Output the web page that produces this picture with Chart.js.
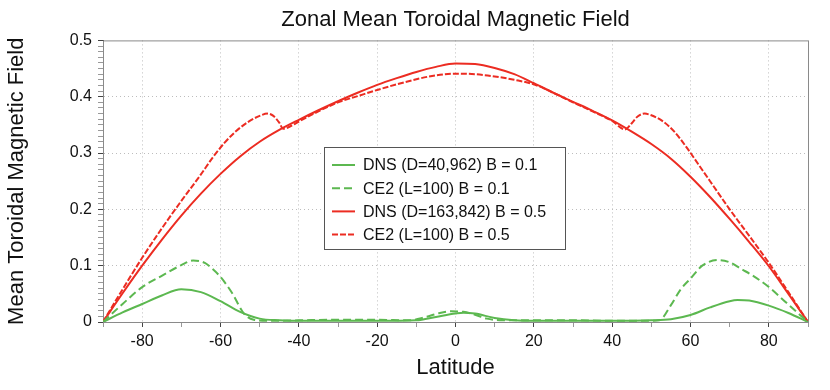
<!DOCTYPE html>
<html>
<head>
<meta charset="utf-8">
<script src="https://cdn.jsdelivr.net/npm/chart.js@4.4.1/dist/chart.umd.min.js"></script>
<style>
  html, body { margin: 0; padding: 0; background: #fff; }
</style>
</head>
<body>
<canvas id="graph" width="830" height="390"></canvas>
<script>
// DNS (D=40,962) B = 0.1
const latDnsLow = [-90,-85,-80,-75,-70,-65,-60,-55,-50,-45,-40,-30,-20,-10,-5,0,2,5,10,15,20,30,40,50,55,60,65,70,72,75,80,85,90];
const valDnsLow = [0,0.017,0.032,0.047,0.058,0.053,0.037,0.018,0.006,0.003,0.002,0.002,0.002,0.003,0.009,0.015,0.0165,0.015,0.007,0.003,0.002,0.002,0.002,0.003,0.005,0.0125,0.026,0.037,0.039,0.038,0.029,0.016,0];

// CE2 (L=100) B = 0.1
const latCe2Low = [-90,-85,-80,-75,-70,-67,-64,-62,-60,-57,-54,-51.5,-48,-40,-30,-20,-12,-8,-4,-1,2,5,8,12,20,30,40,48,52,55,57.5,60,63,67,70,73,76,80,84.5,90];
const valCe2Low = [0,0.032,0.062,0.082,0.101,0.109,0.105,0.094,0.08,0.051,0.015,0.004,0.002,0.003,0.004,0.004,0.003,0.008,0.016,0.019,0.018,0.013,0.006,0.003,0.003,0.003,0.002,0.002,0.003,0.03,0.058,0.077,0.1,0.11,0.106,0.094,0.082,0.062,0.034,0];

// DNS (D=163,842) B = 0.5
const latDnsHigh = [-90,-85,-80,-75,-70,-65,-60,-55,-50,-45,-40,-35,-30,-25,-20,-15,-10,-5,0,5,10,15,20,25,30,35,40,45,50,55,60,65,70,75,80,85,90];
const valDnsHigh = [0,0.051,0.1,0.146,0.189,0.228,0.263,0.294,0.32,0.341,0.359,0.376,0.392,0.407,0.421,0.433,0.444,0.453,0.459,0.458,0.451,0.44,0.424,0.407,0.391,0.375,0.358,0.338,0.316,0.29,0.258,0.222,0.183,0.142,0.099,0.05,0];

// CE2 (L=100) B = 0.5
const latCe2High = [-90,-85,-80,-75,-70,-65,-62,-59,-56,-53,-50,-48,-46.5,-45,-44,-42,-40,-35,-30,-25,-20,-15,-10,-5,0,5,10,15,20,25,30,35,40,43.3,45,46.5,48.3,50,53,56,59,62,65,70,75,80,85,90];
const valCe2High = [0,0.058,0.114,0.166,0.215,0.262,0.292,0.318,0.339,0.355,0.366,0.37,0.366,0.354,0.343,0.348,0.356,0.374,0.39,0.401,0.412,0.422,0.431,0.438,0.441,0.44,0.436,0.43,0.422,0.407,0.39,0.374,0.357,0.342,0.353,0.365,0.37,0.367,0.356,0.337,0.31,0.28,0.25,0.2,0.153,0.105,0.053,0];

const seriesLabels = ['DNS (D=40,962) B = 0.1', 'CE2 (L=100) B = 0.1', 'DNS (D=163,842) B = 0.5', 'CE2 (L=100) B = 0.5'];

const green = 'rgb(92,184,80)';
const red = 'rgb(236,44,34)';

function pts(xs, ys) {
    return xs.map((x, i) => ({x: x, y: ys[i]}));
}

Chart.defaults.font.family = '"Liberation Sans", Arial, Helvetica, sans-serif';
Chart.defaults.color = '#111';

// gray frame round the plot area
const frame = {
    id: 'frame',
    beforeDatasetsDraw(chart) {
        const a = chart.chartArea, c = chart.ctx;
        c.save();
        c.strokeStyle = '#8a8a8a';
        c.lineWidth = 1;
        c.strokeRect(a.left + 0.5, a.top + 0.5, a.right - a.left, a.bottom - a.top);
        c.restore();
    }
};

// boxed legend inside the plot
const boxLegend = {
    id: 'boxLegend',
    afterDraw(chart) {
        const c = chart.ctx;
        const x = 324, y = 147, w = 241, h = 102;
        c.save();
        c.fillStyle = '#fff';
        c.fillRect(x, y, w, h);
        c.strokeStyle = '#555';
        c.lineWidth = 1;
        c.strokeRect(x + 0.5, y + 0.5, w, h);
        c.font = '16px "Liberation Sans", Arial, sans-serif';
        c.textBaseline = 'middle';
        chart.data.datasets.forEach((ds, i) => {
            const ry = 165 + i * 23.2;
            c.strokeStyle = ds.borderColor;
            c.lineWidth = 2;
            c.setLineDash(ds.borderDash || []);
            c.beginPath();
            c.moveTo(332, ry);
            c.lineTo(355, ry);
            c.stroke();
            c.setLineDash([]);
            c.fillStyle = '#111';
            c.fillText(ds.label, 363, ry + 1);
        });
        c.restore();
    }
};

let context = document.querySelector('#graph').getContext('2d');

new Chart(context, {
    type: 'line',
    data: {
        datasets: [
            { label: seriesLabels[0], data: pts(latDnsLow, valDnsLow), borderColor: green, borderWidth: 2 },
            { label: seriesLabels[1], data: pts(latCe2Low, valCe2Low), borderColor: green, borderWidth: 2, borderDash: [8, 4] },
            { label: seriesLabels[2], data: pts(latDnsHigh, valDnsHigh), borderColor: red, borderWidth: 2 },
            { label: seriesLabels[3], data: pts(latCe2High, valCe2High), borderColor: red, borderWidth: 2, borderDash: [6, 2] }
        ]
    },
    options: {
        responsive: false,
        animation: false,
        layout: { padding: { right: 22 } },
        elements: {
            point: { radius: 0 },
            line: { cubicInterpolationMode: 'monotone', fill: false }
        },
        scales: {
            x: {
                type: 'linear',
                min: -90,
                max: 90,
                afterFit: s => { s.height = 68; },
                ticks: {
                    stepSize: 10,
                    autoSkip: false,
                    maxRotation: 0,
                    padding: 5,
                    font: { size: 16 },
                    callback: v => (v % 20 === 0 ? String(v) : '')
                },
                grid: {
                    color: ctx => (ctx.tick && ctx.tick.value % 20 === 0 && Math.abs(ctx.tick.value) < 90 ? '#bdbdbd' : 'rgba(0,0,0,0)'),
                    tickColor: ctx => (ctx.tick && ctx.tick.value % 20 === 0 ? '#444' : '#999'),
                    tickLength: 5
                },
                border: { color: '#333', dash: [1, 3] },
                title: {
                    display: true,
                    text: 'Latitude',
                    font: { size: 22 },
                    padding: { top: 4, bottom: 9 }
                }
            },
            y: {
                min: 0,
                max: 0.5,
                afterFit: s => { s.width = 103; },
                ticks: {
                    stepSize: 0.01,
                    maxTicksLimit: 51,
                    autoSkip: false,
                    padding: 6,
                    font: { size: 16 },
                    callback: v => {
                        const t = Math.round(v * 10);
                        return Math.abs(v * 10 - t) < 1e-6 ? String(t / 10) : '';
                    }
                },
                grid: {
                    color: ctx => {
                        if (!ctx.tick) return 'rgba(0,0,0,0)';
                        const v = ctx.tick.value, t = Math.round(v * 10);
                        return (Math.abs(v * 10 - t) < 1e-6 && t > 0 && t < 5) ? '#bdbdbd' : 'rgba(0,0,0,0)';
                    },
                    tickColor: ctx => {
                        const v = ctx.tick ? ctx.tick.value : 0, t = Math.round(v * 10);
                        return Math.abs(v * 10 - t) < 1e-6 ? '#444' : '#999';
                    },
                    tickLength: 5
                },
                border: { color: '#333', dash: [1, 3] },
                title: {
                    display: true,
                    text: 'Mean Toroidal Magnetic Field',
                    font: { size: 22 },
                    padding: { top: 4, bottom: 4 }
                }
            }
        },
        plugins: {
            legend: { display: false },
            tooltip: { enabled: false },
            title: {
                display: true,
                fullSize: false,
                text: 'Zonal Mean Toroidal Magnetic Field',
                font: { size: 22, weight: 'normal' },
                color: '#111',
                padding: { top: 7, bottom: 7 }
            }
        }
    },
    plugins: [frame, boxLegend]
});
</script>
</body>
</html>
